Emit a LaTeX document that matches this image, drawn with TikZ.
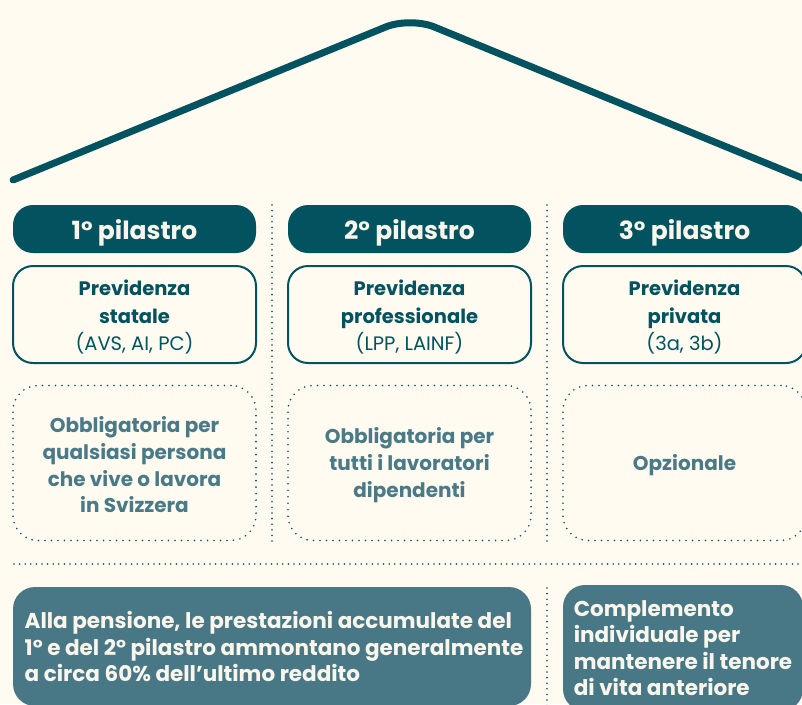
\documentclass[tikz,border=0pt]{standalone}
\usepackage{fontspec}
\setmainfont{Poppins}
\definecolor{bgcream}{HTML}{FFFBF0}
\definecolor{dteal}{HTML}{02535F}
\definecolor{lteal}{HTML}{4A7A87}
\definecolor{mteal}{HTML}{487886}
\definecolor{wtext}{HTML}{FBF6EC}
\begin{document}
\begin{tikzpicture}[x=1pt,y=-1pt,
  pill/.style={fill=dteal, rounded corners=20pt, minimum width=243pt, minimum height=48pt, inner sep=0pt, text depth=0pt, text=wtext, font=\fontsize{25}{29}\selectfont\bfseries},
  solidbox/.style={draw=dteal, line width=2pt, rounded corners=20pt, minimum width=243pt, minimum height=97pt, inner sep=0pt},
  solidtext/.style={inner sep=0pt, align=center, text=dteal, font=\fontsize{19.5}{27.5}\selectfont},
  dotbox/.style={draw=dteal, line width=1.8pt, dash pattern=on 0pt off 6.5pt, line cap=round, rounded corners=25pt, minimum width=243pt, minimum height=155pt, inner sep=0pt},
  dottext/.style={inner sep=0pt, align=center, text=lteal, font=\fontsize{20}{26.7}\selectfont\bfseries},
  notebox/.style={fill=mteal, rounded corners=22pt, inner sep=0pt, align=left, text=wtext, font=\fontsize{21.5}{26.5}\selectfont\bfseries},
  sepline/.style={draw=dteal, line width=1.8pt, dash pattern=on 0pt off 5.6pt, line cap=round},
  roofline/.style={draw=dteal, line width=7pt, line cap=round, rounded corners=26pt}
]
\useasboundingbox (0,0) rectangle (802,704);
\clip (0,0) rectangle (802,704);
\fill[bgcream] (0,0) rectangle (802,704);

% roof
\coordinate (rl) at (13,180);
\coordinate (rt) at (410,17);
\coordinate (rr) at (812,182);
\draw[roofline] (rl) -- (rt) -- (rr);

% headers
\node[pill] (p1) at (134.5,229) {1° pilastro};
\node[pill] (p2) at (409.5,229) {2° pilastro};
\node[pill] (p3) at (684.5,229) {3° pilastro};

% solid boxes
\node[solidbox] (b1) at (134.5,314.5) {};
\node[solidbox] (b2) at (409.5,314.5) {};
\node[solidbox] (b3) at (684.5,314.5) {};
\node[solidtext] (b1t) at ([yshift=-2.5pt]b1.center) {\textbf{Previdenza}\\\textbf{statale}\\(AVS, AI, PC)};
\node[solidtext] (b2t) at ([yshift=-2.5pt]b2.center) {\textbf{Previdenza}\\\textbf{professionale}\\(LPP, LAINF)};
\node[solidtext] (b3t) at ([yshift=-2.5pt]b3.center) {\textbf{Previdenza}\\\textbf{privata}\\(3a, 3b)};

% dotted boxes
\node[dotbox] (d1) at (134.5,463) {};
\node[dotbox] (d2) at (409.5,463) {};
\node[dotbox] (d3) at (684.5,463) {};
\node[dottext] (d1t) at ([yshift=-2pt]d1.center) {Obbligatoria per\\qualsiasi persona\\che vive o lavora\\in Svizzera};
\node[dottext] (d2t) at ([yshift=-2pt]d2.center) {Obbligatoria per\\tutti i lavoratori\\dipendenti};
\node[dottext] (d3t) at ([yshift=-2pt]d3.center) {Opzionale};

% separators
\coordinate (s1t) at (272,205);
\coordinate (s1b) at (272,542);
\coordinate (s2t) at (547,205);
\coordinate (s2b) at (547,542);
\coordinate (hl) at (14,564);
\coordinate (hr) at (806,564);
\coordinate (s3t) at (547,588);
\coordinate (s3b) at (547,708);
\draw[sepline] (s1t) -- (s1b);
\draw[sepline] (s2t) -- (s2b);
\draw[sepline] (hl) -- (hr);
\draw[sepline] (s3t) -- (s3b);

% bottom notes
\node[notebox, minimum width=518pt, minimum height=119pt] (n1) at (272,646.5) {\hspace*{4pt}Alla pensione, le prestazioni accumulate del\\\hspace*{4pt}1° e del 2° pilastro ammontano generalmente\\\hspace*{4pt}a circa 60\% dell’ultimo reddito};
\node[notebox, minimum width=240pt, minimum height=126pt] (n2) at (683,648) {Complemento\\individuale per\\mantenere il tenore\\di vita anteriore};
\end{tikzpicture}
\end{document}
